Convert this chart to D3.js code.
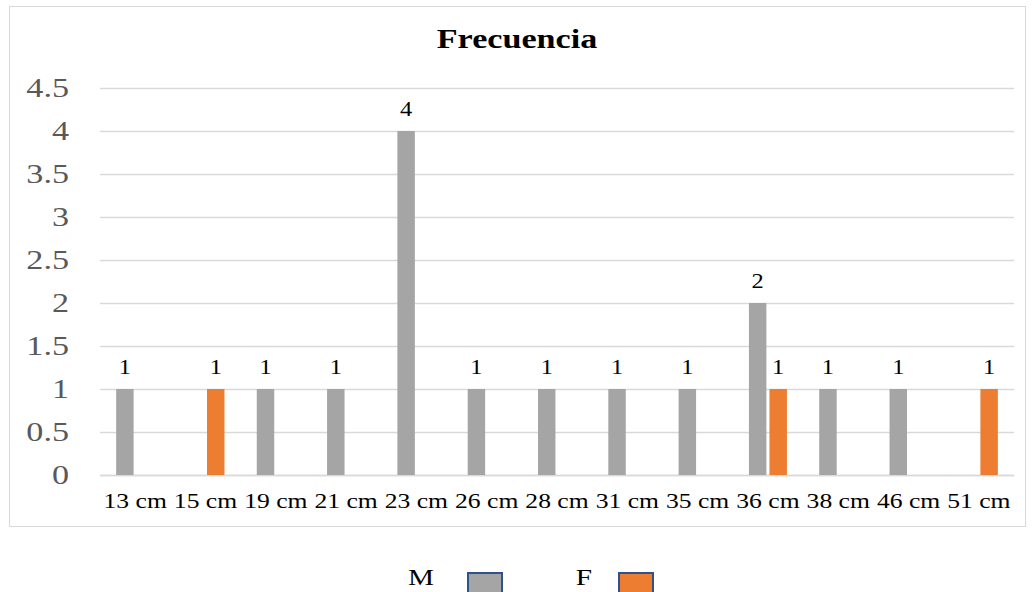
<!DOCTYPE html>
<html>
<head>
<meta charset="utf-8">
<script src="https://cdn.jsdelivr.net/npm/d3@7"></script>
<style>
  body { margin: 0; background: #fff; }
  svg { display: block; }
  text { font-family: "Liberation Serif", "Times New Roman", serif; }
</style>
</head>
<body>
<svg id="chart" width="1036" height="592"></svg>
<script>
// Frequency of lengths, split by sex
const categories = ["13 cm", "15 cm", "19 cm", "21 cm", "23 cm", "26 cm", "28 cm", "31 cm", "35 cm", "36 cm", "38 cm", "46 cm", "51 cm"];
const seriesNames = ["M", "F"];
const valuesM = [1, 0, 1, 1, 4, 1, 1, 1, 1, 2, 1, 1, 0];
const valuesF = [0, 1, 0, 0, 0, 0, 0, 0, 0, 1, 0, 0, 1];
const yTicks = [0, 0.5, 1, 1.5, 2, 2.5, 3, 3.5, 4, 4.5];
const colors = ["#A5A5A5", "#ED7D31"];

// text is drawn slightly widened
const SX = 1.22;

const svg = d3.select("#chart");
const plot = { left: 100, right: 1014, top: 88, bottom: 475 };

// chart frame
svg.append("rect")
  .attr("x", 9.5).attr("y", 6.5)
  .attr("width", 1016).attr("height", 520)
  .attr("fill", "#fff").attr("stroke", "#D9D9D9").attr("stroke-width", 1);

svg.append("text")
  .attr("transform", `translate(517,48) scale(${SX},1)`)
  .attr("text-anchor", "middle")
  .attr("font-size", 28).attr("font-weight", "bold")
  .attr("fill", "#000")
  .text("Frecuencia");

const x = d3.scaleBand().domain(categories).range([plot.left, plot.right]).padding(0);
const y = d3.scaleLinear().domain([0, 4.5]).range([plot.bottom, plot.top]);
const xInner = d3.scaleBand().domain(seriesNames).range([0, 38]).paddingInner(0.15);

// horizontal gridlines + y labels
const yAxis = d3.axisLeft(y).tickValues(yTicks).tickSize(-(plot.right - plot.left)).tickPadding(31)
  .tickFormat(d => String(d));
const gy = svg.append("g").attr("transform", `translate(${plot.left},0)`).call(yAxis);
gy.select(".domain").remove();
gy.selectAll(".tick line").attr("stroke", "#D9D9D9").attr("stroke-width", 1.3);
gy.selectAll(".tick text")
  .attr("font-size", 28).attr("fill", "#595959")
  .attr("font-family", "Liberation Serif, serif")
  .attr("x", -31 / SX)
  .attr("transform", `scale(${SX},1)`);

// x labels
const xAxis = d3.axisBottom(x).tickSize(0).tickPadding(18);
const gx = svg.append("g").attr("transform", `translate(0,${plot.bottom})`).call(xAxis);
gx.select(".domain").attr("stroke", "#D9D9D9").attr("stroke-width", 1.3);
gx.selectAll(".tick text")
  .attr("font-size", 21).attr("fill", "#000")
  .attr("font-family", "Liberation Serif, serif")
  .attr("transform", `scale(${SX},1)`);

// bars
const rows = categories.map((c, i) => ({ cat: c, vals: [valuesM[i], valuesF[i]] }));
const groups = svg.append("g").selectAll("g").data(rows).join("g")
  .attr("transform", d => `translate(${x(d.cat) + x.bandwidth() / 2 - 19},0)`);

const present = d => d.vals.map((v, k) => ({ v, k })).filter(e => e.v > 0);

groups.selectAll("rect")
  .data(present)
  .join("rect")
  .attr("x", e => xInner(seriesNames[e.k]))
  .attr("width", xInner.bandwidth())
  .attr("y", e => y(e.v))
  .attr("height", e => y(0) - y(e.v))
  .attr("fill", e => colors[e.k]);

groups.selectAll("text")
  .data(present)
  .join("text")
  .attr("transform", e => `translate(${xInner(seriesNames[e.k]) + xInner.bandwidth() / 2},${y(e.v) - 15}) scale(${SX},1)`)
  .attr("text-anchor", "middle")
  .attr("font-size", 20).attr("fill", "#000")
  .text(e => e.v);

// legend below the frame
const legend = [
  { name: "M", tx: 421, bx: 467, color: colors[0] },
  { name: "F", tx: 584, bx: 618, color: colors[1] }
];
const lg = svg.append("g").selectAll("g").data(legend).join("g");
lg.append("text")
  .attr("transform", d => `translate(${d.tx},585) scale(${SX},1)`)
  .attr("text-anchor", "middle")
  .attr("font-size", 24).attr("fill", "#000")
  .text(d => d.name);
lg.append("rect")
  .attr("x", d => d.bx + 1).attr("y", 573)
  .attr("width", 34).attr("height", 26)
  .attr("fill", d => d.color)
  .attr("stroke", "#2F528F").attr("stroke-width", 2);
</script>
</body>
</html>
